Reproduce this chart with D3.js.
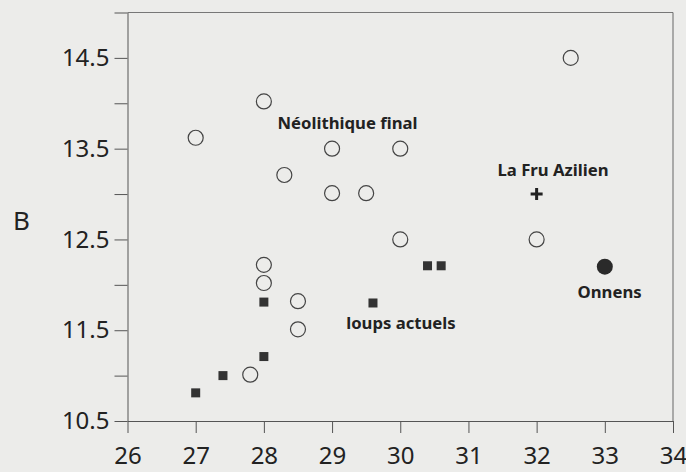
<!DOCTYPE html>
<head>
	<meta charset="utf-8">
	<title>B</title>
	<script src="https://cdn.jsdelivr.net/npm/d3@7"></script>
	<style>
		body {
			margin: 0;
			background: #ececea;
		}
		svg text {
			font-family: 'Noto Sans', sans-serif;
			fill: #222;
		}
		.axis path, .axis line {
			stroke: #555;
			stroke-width: 1px;
		}
		.axis text {
			font-size: 24px;
		}
		.lbl {
			font-weight: bold;
			font-size: 16.7px;
		}
	</style>
</head>
<body>
	<script>
		var width = 686;
		var height = 472;

		// Néolithique final (open circles)
		var neoX = [27, 28, 28.3, 29, 29, 29.5, 30, 30, 32, 32.5, 28, 28, 28.5, 28.5, 27.8];
		var neoY = [13.62, 14.02, 13.21, 13.5, 13.01, 13.01, 13.5, 12.5, 12.5, 14.5, 12.22, 12.02, 11.82, 11.51, 11.01];

		// loups actuels (filled squares)
		var loupX = [27, 27.4, 28, 28, 29.6, 30.4, 30.6];
		var loupY = [10.81, 11.0, 11.21, 11.81, 11.8, 12.21, 12.21];

		// Onnens (filled circle) and La Fru Azilien (cross)
		var onnens = [33, 12.2];
		var laFru = [32, 13.0];

		var xTicks = [26, 27, 28, 29, 30, 31, 32, 33, 34];
		var yTicks = [10.5, 11, 11.5, 12, 12.5, 13, 13.5, 14, 14.5, 15];
		var yLabels = [10.5, 11.5, 12.5, 13.5, 14.5];

		var notes = [
			{text: "Néolithique final", x: 28.2, y: 13.72, anchor: "start"},
			{text: "La Fru Azilien", x: 32.24, y: 13.2, anchor: "middle"},
			{text: "Onnens", x: 33.07, y: 11.85, anchor: "middle"},
			{text: "loups actuels", x: 30.01, y: 11.51, anchor: "middle"}
		];

		var margin = {left: 127.5, right: 13, top: 12.5, bottom: 51};

		var svg = d3.select("body")
			.append("svg")
			.attr("width", width)
			.attr("height", height);

		var x = d3.scaleLinear()
			.domain([26, 34])
			.range([margin.left, width - margin.right]);

		var y = d3.scaleLinear()
			.domain([10.5, 15])
			.range([height - margin.bottom, margin.top]);

		// frame
		svg.append("line")
			.attr("x1", x(26)).attr("x2", x(34))
			.attr("y1", y(15)).attr("y2", y(15))
			.attr("stroke", "#777");
		svg.append("line")
			.attr("x1", x(34)).attr("x2", x(34))
			.attr("y1", y(15)).attr("y2", y(10.5))
			.attr("stroke", "#666");

		svg.append("g")
			.attr("class", "axis")
			.attr("transform", "translate(0," + y(10.5) + ")")
			.call(d3.axisBottom(x).tickValues(xTicks).tickSize(12).tickSizeOuter(0).tickPadding(14).tickFormat(d3.format("d")));

		svg.append("g")
			.attr("class", "axis")
			.attr("transform", "translate(" + x(26) + ",0)")
			.call(d3.axisLeft(y).tickValues(yTicks).tickSize(13).tickSizeOuter(0).tickPadding(5)
				.tickFormat(function(d) { return yLabels.indexOf(d) >= 0 ? d3.format(".1f")(d) : ""; }));

		svg.append("text")
			.attr("x", 13)
			.attr("y", 230)
			.style("font-size", "26px")
			.text("B");

		var neo = neoX.map(function(d, i) { return [d, neoY[i]]; });
		var loups = loupX.map(function(d, i) { return [d, loupY[i]]; });

		svg.append("g").selectAll("circle")
			.data(neo)
			.enter().append("circle")
				.attr("cx", function(d) { return x(d[0]); })
				.attr("cy", function(d) { return y(d[1]); })
				.attr("r", 7.5)
				.attr("fill", "none")
				.attr("stroke", "#444")
				.attr("stroke-width", 1.2);

		svg.append("g").selectAll("rect")
			.data(loups)
			.enter().append("rect")
				.attr("x", function(d) { return x(d[0]) - 4.5; })
				.attr("y", function(d) { return y(d[1]) - 4.5; })
				.attr("width", 9)
				.attr("height", 9)
				.attr("fill", "#333");

		svg.append("circle")
			.attr("cx", x(onnens[0]))
			.attr("cy", y(onnens[1]))
			.attr("r", 8)
			.attr("fill", "#2a2a2a");

		svg.append("path")
			.attr("d", "M-6,0H6M0,-6V6")
			.attr("transform", "translate(" + x(laFru[0]) + "," + y(laFru[1]) + ")")
			.attr("stroke", "#222")
			.attr("stroke-width", 3);

		svg.append("g").selectAll("text")
			.data(notes)
			.enter().append("text")
				.attr("class", "lbl")
				.attr("x", function(d) { return x(d.x); })
				.attr("y", function(d) { return y(d.y); })
				.attr("text-anchor", function(d) { return d.anchor; })
				.text(function(d) { return d.text; });
	</script>
</body>
